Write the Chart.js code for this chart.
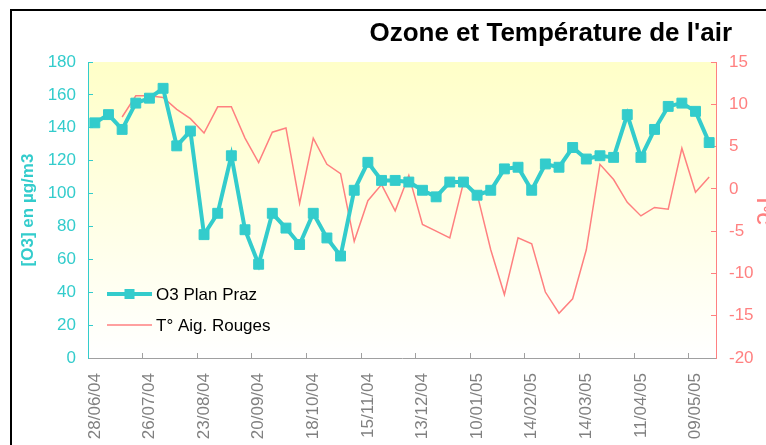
<!DOCTYPE html>
<html>
<head>
<meta charset="utf-8">
<title>Ozone et Température de l'air</title>
<script src="https://cdn.jsdelivr.net/npm/chart.js@4.4.0/dist/chart.umd.min.js"></script>
<style>
  html, body { margin: 0; padding: 0; background: #fff; }
  #wrap { position: relative; width: 766px; height: 445px; overflow: hidden; }
  #frame { position: absolute; left: 10px; top: 9px; width: 800px; height: 500px;
           border-left: 2px solid #000; border-top: 2px solid #000; }
  canvas { position: absolute; left: 0; top: 0; }
</style>
</head>
<body>
<div id="wrap">
  <div id="frame"></div>
  <canvas id="ozoneChart" width="766" height="445"></canvas>
</div>
<script>
// Weekly dates (one week missing in January 2005)
const dates = ['28/06/04', '05/07/04', '12/07/04', '19/07/04', '26/07/04', '02/08/04', '09/08/04', '16/08/04',
  '23/08/04', '30/08/04', '06/09/04', '13/09/04', '20/09/04', '27/09/04', '04/10/04', '11/10/04',
  '18/10/04', '25/10/04', '01/11/04', '08/11/04', '15/11/04', '22/11/04', '29/11/04', '06/12/04',
  '13/12/04', '20/12/04', '27/12/04', '03/01/05', '10/01/05', '17/01/05', '31/01/05', '07/02/05',
  '14/02/05', '21/02/05', '28/02/05', '07/03/05', '14/03/05', '21/03/05', '28/03/05', '04/04/05',
  '11/04/05', '18/04/05', '25/04/05', '02/05/05', '09/05/05', '16/05/05'];

// O3 Plan Praz, µg/m3
const ozone = [143, 148, 139, 155, 158, 164, 129, 138, 75, 88,
  123, 78, 57, 88, 79, 69, 88, 73, 62, 102,
  119, 108, 108, 107, 102, 98, 107, 107, 99, 102,
  115, 116, 102, 118, 116, 128, 121, 123, 122, 148,
  122, 139, 153, 155, 150, 131];

// T° Aig. Rouges, °C
const temperature = [null, null, 8.5, 11.0, 11.0, 10.8, 9.4, 8.3, 6.6, 9.7,
  9.7, 6.0, 3.1, 6.7, 7.2, -1.7, 6.0, 2.9, 1.8, -6.2,
  -1.4, 0.5, -2.6, 1.6, -4.2, -5.0, -5.8, 0.7, -0.6, -7.2,
  -12.5, -5.8, -6.5, -12.2, -14.7, -13.0, -7.2, 2.9, 1.1, -1.6,
  -3.2, -2.2, -2.4, 4.8, -0.4, 1.4];

const ozoneLabel = 'O3 Plan Praz';
const tempLabel = 'T° Aig. Rouges';
const chartTitle = "Ozone et Température de l'air";

const cyan = '#33CCCC';
const salmon = '#FF8080';
const grey = '#808080';
const fontFamily = "'Liberation Sans', Arial, sans-serif";

// Yellow-to-white fill behind the plot
const plotBackground = {
  id: 'plotBackground',
  beforeDraw(chart) {
    const { ctx, chartArea } = chart;
    const grad = ctx.createLinearGradient(0, chartArea.top, 0, chartArea.bottom);
    grad.addColorStop(0, '#FFFFC8');
    grad.addColorStop(1, '#FFFFFF');
    ctx.save();
    ctx.fillStyle = grad;
    ctx.fillRect(chartArea.left, chartArea.top, chartArea.right - chartArea.left, chartArea.bottom - chartArea.top);
    ctx.restore();
  }
};

// Title on the right and legend inside the plot, bottom left
const extras = {
  id: 'extras',
  afterDraw(chart) {
    const { ctx, chartArea } = chart;
    ctx.save();
    ctx.fillStyle = '#000';
    ctx.font = 'bold 26px ' + fontFamily;
    ctx.textAlign = 'right';
    ctx.textBaseline = 'alphabetic';
    ctx.fillText(chartTitle, chartArea.right + 16, 41);

    const x0 = chartArea.left + 19;
    const x1 = x0 + 45;
    const rows = [
      { text: ozoneLabel, color: cyan, width: 4, marker: true, y: chartArea.bottom - 64 },
      { text: tempLabel, color: salmon, width: 1.5, marker: false, y: chartArea.bottom - 33 }
    ];
    ctx.font = '17px ' + fontFamily;
    ctx.textAlign = 'left';
    ctx.textBaseline = 'middle';
    rows.forEach(r => {
      ctx.strokeStyle = r.color;
      ctx.lineWidth = r.width;
      ctx.beginPath();
      ctx.moveTo(x0, r.y);
      ctx.lineTo(x1, r.y);
      ctx.stroke();
      if (r.marker) {
        ctx.fillStyle = r.color;
        ctx.fillRect((x0 + x1) / 2 - 5, r.y - 5, 10, 10);
      }
      ctx.fillStyle = '#000';
      ctx.fillText(r.text, x1 + 4, r.y + 1);
    });
    ctx.restore();
  }
};

const ozoneChart = new Chart(document.getElementById('ozoneChart'), {
  type: 'line',
  data: {
    labels: dates,
    datasets: [
      {
        label: ozoneLabel,
        data: ozone,
        yAxisID: 'y',
        borderColor: cyan,
        backgroundColor: cyan,
        borderWidth: 4,
        pointStyle: 'rect',
        pointRadius: 7,
        pointBorderWidth: 1,
        pointBackgroundColor: cyan,
        pointBorderColor: cyan,
        tension: 0,
        order: 1
      },
      {
        label: tempLabel,
        data: temperature,
        yAxisID: 'y1',
        borderColor: salmon,
        borderWidth: 1.5,
        pointRadius: 0,
        tension: 0,
        spanGaps: false,
        order: 2
      }
    ]
  },
  options: {
    responsive: false,
    animation: false,
    layout: { padding: { top: 62, left: 0, right: 0, bottom: 0 } },
    plugins: {
      legend: { display: false },
      title: { display: false },
      tooltip: { enabled: false }
    },
    scales: {
      x: {
        type: 'category',
        offset: true,
        afterFit: scale => { scale.height = 87; },
        border: { color: '#A0A0A0', width: 1 },
        grid: {
          offset: true,
          drawOnChartArea: false,
          tickLength: -5,
          color: ctx => (ctx.index % 4 === 0 ? '#A0A0A0' : 'rgba(0,0,0,0)')
        },
        ticks: {
          autoSkip: false,
          minRotation: 90,
          maxRotation: 90,
          padding: 20,
          color: grey,
          font: { family: fontFamily, size: 17 },
          callback: function (value, index) {
            return index % 4 === 0 ? this.getLabelForValue(value) : '';
          }
        }
      },
      y: {
        position: 'left',
        min: 0,
        max: 180,
        afterFit: scale => { scale.width = 88; },
        border: { color: cyan, width: 1 },
        grid: { drawOnChartArea: false, tickLength: -5, color: cyan },
        ticks: {
          stepSize: 20,
          padding: 17,
          color: cyan,
          font: { family: fontFamily, size: 17 }
        },
        title: {
          display: true,
          text: '[O3] en µg/m3',
          color: cyan,
          padding: { top: 18, bottom: 0 },
          font: { family: fontFamily, size: 17, weight: 'bold' }
        }
      },
      y1: {
        position: 'right',
        min: -20,
        max: 15,
        afterFit: scale => { scale.width = 50; },
        border: { color: salmon, width: 1 },
        grid: { drawOnChartArea: false, tickLength: -5, color: salmon },
        ticks: {
          stepSize: 5,
          padding: 18,
          color: salmon,
          font: { family: fontFamily, size: 17 }
        },
        title: {
          display: true,
          text: 'T°C',
          color: salmon,
          padding: { top: -6, bottom: 0 },
          font: { family: fontFamily, size: 17, weight: 'bold' }
        }
      }
    }
  },
  plugins: [plotBackground, extras]
});
</script>
</body>
</html>
